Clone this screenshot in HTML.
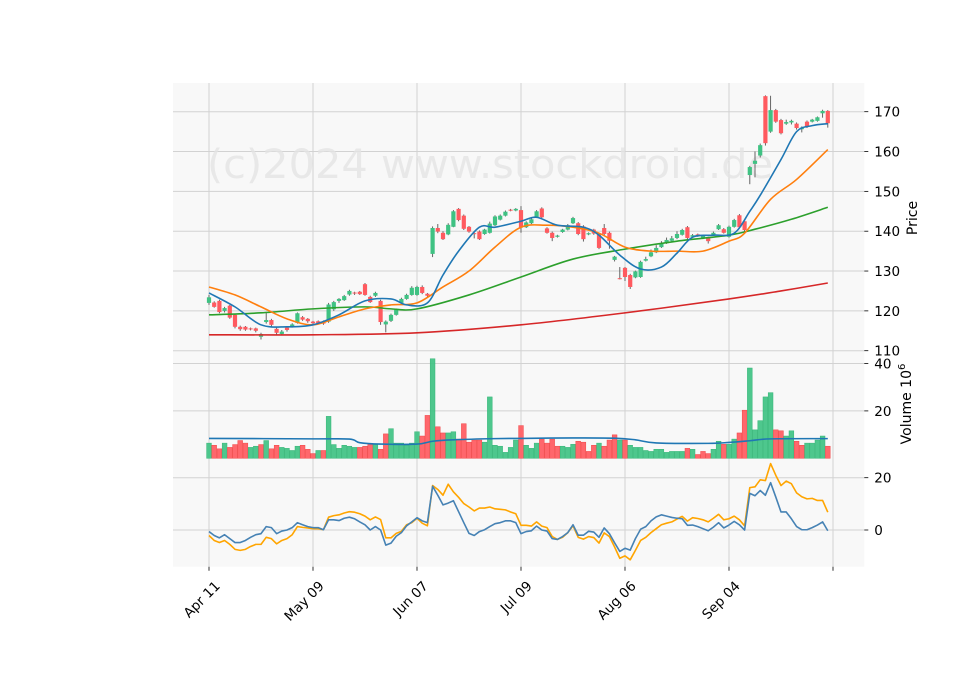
<!DOCTYPE html>
<html><head><meta charset="utf-8"><style>
html,body{margin:0;padding:0;background:#fff;}
svg{display:block;font-family:"DejaVu Sans","Liberation Sans",sans-serif;}
</style></head><body>
<svg id="chart" width="960" height="690" viewBox="0 0 960 690" xmlns="http://www.w3.org/2000/svg">
<rect width="960" height="690" fill="#fff"/>
<g id="bg"></g>
<text x="207" y="178" font-size="40" fill="#e4e4e4" fill-opacity="0.8" textLength="566" lengthAdjust="spacingAndGlyphs">(c)2024 www.stockdroid.de</text>
<g id="marks"></g>
<g id="axes"></g>
</svg>
<script>
// ---- data ----
const xTickIdx = [0,20,40,60,80,100,120];
const xTickLabels = ["Apr 11","May 09","Jun 07","Jul 09","Aug 06","Sep 04",""];
const priceTicks = [110,120,130,140,150,160,170];
const volTicks = [20,40];
const macdTicks = [0,20];
const opens = [122,122.1,122.5,120,121.3,119,116,116,115.6,115.6,113.5,117.2,117.7,115.5,114.2,115.8,116,117,118.4,118,117.3,117.4,117.2,117.3,120.4,122.5,122.7,124.1,124.6,124.8,126.7,123.5,123.8,122.5,116.6,117.5,119,122,123,124,124,126,124.3,134.3,140.8,139.6,139.2,141.1,145.6,143.9,141.1,139.5,139.9,139.3,139.6,141.5,142.9,143.9,145.4,145.2,145.3,141,142,143.5,145.7,140.7,139.6,138.6,139.8,140.4,142,142,141.2,139.2,140.4,139.3,140.8,139.6,132.8,128.2,130.8,129,128.4,128.5,132.6,133.7,134.7,136,137,137.6,138.3,139.1,141,138.6,139.2,138.3,138.3,139,140.5,140.5,138.6,141.1,144,142.5,154.1,156.9,159,173.9,165,170.4,167.9,167,167.3,167,165.6,167.5,167.5,167.7,169.6,170.2];
const closes = [123.4,121,119.7,120.7,118.3,116,115.4,115.3,115.4,115,114.2,117.7,116.5,114.5,114.8,115.2,116.6,119.4,117.8,117.4,116.9,116.9,116.8,121.6,122.2,123,123.7,125,124.4,124.2,124,122.2,124.5,117.2,117.3,119,120.3,123,124,125.8,126,124.5,123.8,140.8,139.9,138,141.6,145,142.8,140.6,139.9,139.3,138,140.4,141.9,143.7,143.9,144.9,145.2,145.6,140.9,142.2,143,145,143.5,139.6,138.3,138.9,140.4,141.5,143.3,139.3,138,139.5,139.4,135.8,139.3,137.6,133.6,128,128.5,126,129.9,132.3,133,134.7,135.8,137,137.8,138.2,139.3,140.3,138.3,139,138.8,138.8,137.5,139.6,141.5,139.6,141.1,142.8,141,140.3,156.1,157.7,161.6,162.1,170.4,167.5,164.6,167.4,167.7,165.9,166,166.2,168,168.6,170.2,167.1];
const highs = [124,122.4,122.8,121,121.5,119.2,116.3,116.2,115.8,115.8,114.5,119.5,118,115.8,115.2,116,116.9,119.6,118.7,118.2,117.5,117.6,117.6,122,122.5,123.2,124,125.3,124.8,125,127,123.8,124.8,122.8,117.6,119.3,120.6,123.3,124.3,126.2,126.3,126.4,124.5,141.2,141.8,140,142,145.3,145.8,144.2,141.3,140,140.2,140.6,142.4,144,144.2,145.2,145.6,145.8,146.3,142.5,143.3,145.3,146,141,139.9,139.1,140.6,141.8,143.6,142.3,141.5,139.7,140.6,139.6,141.8,139.9,133.8,131,131,129.3,130.1,132.6,133.6,135.4,136.5,137.5,138.4,138.8,140,140.6,141.3,139.3,139.4,139.1,138.6,139.9,141.8,140.8,141.4,143.1,144.3,143,156.4,160,162,174.1,174,170.7,168.2,168,168,167.3,166.3,167.8,168.2,168.8,170.5,170.4];
const lows = [121.5,120.8,119.4,119.6,118,115.6,115,115,115.1,114.6,112.8,116.8,116,114,113.8,114.8,115.8,116.8,117.5,117,116.6,116.6,116.5,117,120,122,122.5,123.8,124,124,123.8,122,123.5,116.5,114.6,117.2,118.8,121.8,122.8,123.8,123.8,124.2,123.5,133.5,139.5,137.8,139,141,142.5,140.3,139.6,138.2,137.8,139.1,139.4,141.3,142.7,143.7,145,145,139.6,140.8,141.8,143.3,143.3,139.4,137.5,138.4,139.6,140.2,141.8,139,137.4,139,139.1,135.5,139,135.6,132.4,127.9,127.5,125.5,128.2,128.3,132.4,133.5,134.5,135.8,136.8,137.4,138,138.9,138,138.4,138.6,138,136.9,138.8,140.3,139.4,138.4,140.9,140.6,139.5,151.8,153.5,158.5,161.5,164.7,167.2,164.3,166.7,166.8,165.5,164.8,165.9,167.3,167.5,168.5,166];
const volumes = [6.4,5.5,4,6.4,4.6,5.8,7.5,6.4,4.6,5.1,5.8,7.5,4,5.5,4.6,4.2,3.3,5.1,5.5,3.8,2,3.3,3.3,17.7,5.8,4.2,5.5,5.1,4.6,4.6,5.1,5.9,5.9,3.8,10.3,12.5,6.4,6.4,5.5,6.4,11.2,9.4,18.1,42,13.3,10.7,10.7,11.2,8.1,14.6,6.8,7.7,7.7,6.8,25.9,5.5,5.1,2.5,4.6,7.7,13.8,5.5,4.2,6.4,8.1,6.4,8.1,5.1,5.1,4.6,5.9,7.2,6.8,2.9,5.5,6.4,5.1,7.7,9.9,7.7,7.7,5.5,4.6,4.6,3.3,2.9,3.8,3.8,2.5,2.9,2.9,2.9,4.2,3.8,1.6,2.9,2,3.8,7.2,5.9,5.9,8.1,10.7,20.3,38.1,12,15.9,25.9,27.7,12,11.6,9.4,11.6,7.2,5.5,6.4,6.4,7.7,9.4,5.1];
const volUp = [1,0,0,1,0,0,0,0,1,1,0,1,0,0,1,1,1,1,0,0,0,1,0,1,1,1,1,1,1,0,0,0,1,0,0,1,1,1,1,1,1,0,0,1,0,0,1,1,0,0,0,0,0,1,1,1,1,1,1,1,0,1,1,1,0,0,0,0,1,1,1,0,0,0,0,1,0,0,0,1,0,1,1,1,1,1,1,1,1,1,1,1,0,1,0,0,0,1,1,0,1,1,0,0,1,1,1,1,1,0,0,1,1,0,0,1,1,1,1,0];
const maFastIdx = [0,5,10,15,20,25,30,35,38,42,45,48,52,55,60,63,67,72,75,79,83,87,90,93,97,101,104,106,110,113,116,119];
const maFastVal = [124.5,121,116.5,116,116.5,119,122.5,123,121.5,122,129,135,141,141,142.5,143.5,141.5,141,139,134,130.5,131,134.5,138.5,139,139.5,145,149,158,165,166.5,167];
const maMidIdx = [0,5,10,15,20,25,30,35,40,45,50,55,60,65,70,75,80,85,90,95,100,103,108,113,119];
const maMidVal = [126,124,121,118,116.5,118.5,120.5,121.5,122,126,130,136,141,141.5,141,139.5,136,135,135,135,137.5,139.5,148,153,160.5];
const maSlowIdx = [0,10,20,30,35,40,50,60,70,80,90,100,105,112,119];
const maSlowVal = [119,119.5,120.5,121,120.5,120.5,124,128.5,133,135.5,137.5,139,140.5,143,146];
const maLongIdx = [0,20,40,60,80,100,110,119];
const maLongVal = [114,114,114.5,116.5,119.5,123,125,127];
const volMaIdx = [0,20,27,29,33,40,43,47,55,60,70,78,82,86,96,100,104,108,119];
const volMaVal = [8.4,8.2,8.1,6.6,6.0,6.0,7.2,7.8,8.3,8.4,8.6,8.5,7.8,6.5,6.3,6.7,7.4,8.2,8.3];
const macdLine = [-0.6,-2.1,-3,-1.8,-3.3,-4.8,-4.8,-4,-2.8,-1.8,-1.4,1.3,0.9,-1.4,-0.4,0,0.9,2.8,2,1.3,0.9,0.9,0.1,3.9,3.9,3.6,4.5,4.9,4.3,3.1,2,0,1.3,0,-5.8,-5,-2.4,-1,1.6,3.1,4.7,3.5,2.8,16.7,13.3,9.6,10.3,11.2,7,2.8,-1.3,-2.1,-0.6,0.1,1.3,2.4,2.8,3.5,3.5,2.8,-1.4,-0.6,-0.3,1.5,0,-0.4,-3.3,-3.6,-2.5,-1,2,-2,-2,-0.5,-0.8,-2.8,0.8,-1.4,-4.9,-8.2,-7,-7.7,-3.3,0.3,1.3,3.5,5,5.8,5.3,4.8,4.5,4.3,1.8,1.9,1.3,0.5,-0.3,1.1,2.8,0.8,1.9,3.3,2,0,14,13.1,15.1,13.3,18.1,12.6,6.9,6.9,4.3,1.3,0.1,0.1,0.9,1.9,3.1,-0.3];
const signalLine = [-2.1,-4,-4.8,-4,-5.5,-7.4,-7.8,-7.4,-6.3,-5.5,-5.5,-2.8,-3.3,-5.3,-4,-3.3,-1.8,1.3,1,0.8,0.5,0.5,0.1,4.9,5.5,5.8,6.5,7,6.8,6.2,5.3,3.9,5,4,-3,-3,-1.3,-0.5,2,2.8,4.5,2.6,1.6,17,15.5,13.3,17.5,14.6,12.5,10.1,8.8,7.3,8.4,8.4,8.8,8.1,7.9,7.7,6.9,6.2,1.8,1.8,1.5,3.1,1.5,0.9,-2.5,-3.6,-2.8,-1,1.6,-2.8,-3.5,-2.5,-2.9,-5,-1.1,-2.5,-6.5,-10.8,-9.9,-11.4,-7.8,-4,-2.8,-1,0.5,2,2.6,3.1,4.2,5.2,3.4,4.7,4.4,3.9,3.1,4.5,6,3.9,4.3,5.3,3.9,1.6,16.2,16.5,19.2,18.9,25.4,20.9,17,18.7,17.7,14.2,12.7,11.9,12.1,11.3,11.3,6.8];

// ---- layout / scales ----
const L=173, R=864.3;
const P={top:83,bot:350.7}, V={top:350.7,bot:458.3}, M={top:458.3,bot:566.7};
const xOf = i => 209 + i*5.2;
const yPrice = p => 350.7 - (p-110)*239/60;
const yVol = v => 458.3 - v*2.37;
const yMacd = v => 530 - v*2.615;
const NS="http://www.w3.org/2000/svg";
function mk(tag, attrs, parent){const e=document.createElementNS(NS,tag);for(const k in attrs)e.setAttribute(k,attrs[k]);parent.appendChild(e);return e;}
const bg=document.getElementById('bg'), marks=document.getElementById('marks'), axes=document.getElementById('axes');
const GREEN="#3fc283", RED="#ff5a5f", GRID="#d2d2d2";

[[P,'price-panel'],[V,'volume-panel'],[M,'indicator-panel']].forEach(([pn,name])=>{
  const r=mk('rect',{x:L,y:pn.top,width:R-L,height:pn.bot-pn.top,fill:'#f8f8f8'},bg);
  
  
});
xTickIdx.forEach(i=>{
  const g=mk('line',{x1:xOf(i),x2:xOf(i),y1:P.top,y2:M.bot,stroke:GRID,'stroke-width':1},bg);
  
  
});
function hgrid(y){const g=mk('line',{x1:L,x2:R,y1:y,y2:y,stroke:GRID,'stroke-width':1},bg);
  
  }
priceTicks.forEach(p=>hgrid(yPrice(p)));
volTicks.forEach(v=>hgrid(yVol(v)));
macdTicks.forEach(v=>hgrid(yMacd(v)));

opens.forEach((o,i)=>{
  const c=closes[i], x=xOf(i), up=c>=o, col=up?GREEN:RED;
  const w=mk('line',{x1:x,x2:x,y1:yPrice(highs[i]),y2:yPrice(lows[i]),stroke:'#555','stroke-width':0.9},marks);
  
  
  const yt=yPrice(Math.max(o,c)), yb=yPrice(Math.min(o,c));
  const b=mk('rect',{x:x-2.1,y:yt,width:4.2,height:Math.max(yb-yt,1),fill:col},marks);
  
  
});
volumes.forEach((v,i)=>{
  const x=xOf(i), col=volUp[i]?GREEN:RED;
  const y=yVol(v);
  const b=mk('rect',{x:x-2.4,y:y,width:4.8,height:V.bot-y,fill:col,'fill-opacity':0.92,stroke:volUp[i]?'#35b577':'#f04848','stroke-width':0.5},marks);
  
  
});
function smoothPath(pts){
  let d='M'+pts[0][0].toFixed(2)+','+pts[0][1].toFixed(2);
  for(let k=0;k<pts.length-1;k++){
    const p0=pts[Math.max(k-1,0)], p1=pts[k], p2=pts[k+1], p3=pts[Math.min(k+2,pts.length-1)];
    const c1x=p1[0]+(p2[0]-p0[0])/6, c1y=p1[1]+(p2[1]-p0[1])/6;
    const c2x=p2[0]-(p3[0]-p1[0])/6, c2y=p2[1]-(p3[1]-p1[1])/6;
    d+=' C'+c1x.toFixed(2)+','+c1y.toFixed(2)+' '+c2x.toFixed(2)+','+c2y.toFixed(2)+' '+p2[0].toFixed(2)+','+p2[1].toFixed(2);
  }
  return d;
}
function line(idx, vals, yf, color, width, name, smooth){
  const pts = vals.map((v,k)=>[xOf(idx?idx[k]:k), yf(v)]);
  let el;
  if(smooth){
    el=mk('path',{d:smoothPath(pts),fill:'none',stroke:color,'stroke-width':width,'stroke-linejoin':'round'},marks);
  } else {
    el=mk('polyline',{points:pts.map(p=>p[0].toFixed(2)+','+p[1].toFixed(2)).join(' '),fill:'none',stroke:color,'stroke-width':width,'stroke-linejoin':'round'},marks);
  }
  
  
}
line(maLongIdx,maLongVal,yPrice,'#d62728',1.6,'ma-long-line',true);
line(maSlowIdx,maSlowVal,yPrice,'#2ca02c',1.6,'ma-slow-line',true);
line(maMidIdx,maMidVal,yPrice,'#ff7f0e',1.6,'ma-mid-line',true);
line(maFastIdx,maFastVal,yPrice,'#1f77b4',1.6,'ma-fast-line',true);
line(volMaIdx,volMaVal,yVol,'#1f77b4',1.6,'volume-ma-line',true);
line(null,signalLine,yMacd,'#ffa500',1.6,'signal-line',false);
line(null,macdLine,yMacd,'#4682b4',1.6,'macd-line',false);

function ytick(y,label,name){
  const t=mk('line',{x1:R,x2:R+4,y1:y,y2:y,stroke:'#000','stroke-width':0.8},axes);
  
  
  const tx=mk('text',{x:R+10,y:y+5,'font-size':13.5,fill:'#000'},axes);
  tx.textContent=label;
  
  
}
priceTicks.forEach(p=>ytick(yPrice(p),String(p),'price'));
volTicks.forEach(v=>ytick(yVol(v),String(v),'volume'));
macdTicks.forEach(v=>ytick(yMacd(v),String(v),'indicator'));
xTickIdx.forEach((i,k)=>{
  const x=xOf(i);
  const t=mk('line',{x1:x,x2:x,y1:M.bot,y2:M.bot+4,stroke:'#000','stroke-width':0.8},axes);
  
  
  if(xTickLabels[k]){
    const tx=mk('text',{x:x+5,y:580,'font-size':13.5,'text-anchor':'end','dominant-baseline':'hanging',transform:'rotate(-45 '+(x+5)+' 580)',fill:'#000'},axes);
    tx.textContent=xTickLabels[k];
    
    
  }
});
const pl=mk('text',{x:0,y:0,'font-size':14,'text-anchor':'middle',transform:'translate(917 218) rotate(-90)',fill:'#000'},axes);
pl.textContent='Price';


const vl=mk('text',{x:0,y:0,'font-size':14,'text-anchor':'middle',transform:'translate(911 404) rotate(-90)',fill:'#000'},axes);


const t1=mk('tspan',{},vl); t1.textContent='Volume  10';
const t2=mk('tspan',{dy:-6,'font-size':10},vl); t2.textContent='6';
</script>
</body></html>
